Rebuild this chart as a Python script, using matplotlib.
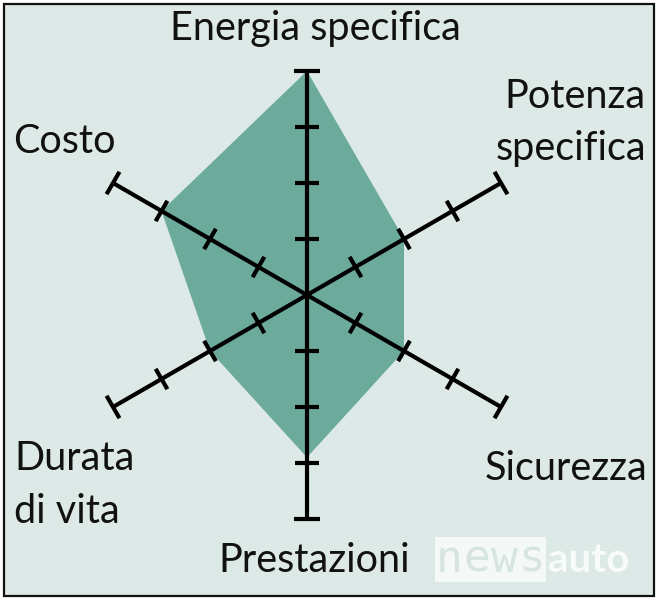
import numpy as np
import matplotlib
matplotlib.use("Agg")
import matplotlib.pyplot as plt
from matplotlib.patches import Rectangle, Polygon

# ---- data ----
categories = ["Energia specifica", "Potenza specifica", "Sicurezza",
              "Prestazioni", "Durata di vita", "Costo"]
values = [4, 2, 2, 2.9, 2, 3]
angles_deg = [90, 30, -30, -90, -150, 150]
max_value = 4
tick_values = [1, 2, 3]

# ---- figure ----
W, H = 659, 600
dpi = 100
fig = plt.figure(figsize=(W / dpi, H / dpi), dpi=dpi)
fig.patch.set_facecolor("white")
ax = fig.add_axes([0, 0, 1, 1])
ax.set_axis_off()

cx, cy, unit = 307, 295, 56.0
ax.set_xlim(-cx / unit, (W - cx) / unit)
ax.set_ylim(-(H - cy) / unit, cy / unit)
ax.set_aspect("auto")

def px(x, y):
    return ((x - cx) / unit, (cy - y) / unit)

bg = "#dce9e6"
fill_c = "#6cab9c"
# background panel + frame
x0, y0 = px(4, 596)
x1, y1 = px(654, 4)
ax.add_patch(Rectangle((x0, y0), x1 - x0, y1 - y0, facecolor=bg,
                       edgecolor="#111111", linewidth=1.6, zorder=0))

ang = np.radians(angles_deg)
pts = np.column_stack([np.array(values) * np.cos(ang), np.array(values) * np.sin(ang)])
ax.add_patch(Polygon(pts, closed=True, facecolor=fill_c, edgecolor="none", zorder=1))

lw = 3.0
half_tick = 0.21
for a in ang:
    ux, uy = np.cos(a), np.sin(a)
    nx, ny = -uy, ux
    ax.plot([0, max_value * ux], [0, max_value * uy], color="black", lw=lw,
            solid_capstyle="butt", zorder=3)
    for t in tick_values + [max_value]:
        h = half_tick if t != max_value else half_tick * 1.1
        ax.plot([t * ux - h * nx, t * ux + h * nx], [t * uy - h * ny, t * uy + h * ny],
                color="black", lw=lw, solid_capstyle="butt", zorder=3)

fam = ["Lato", "DejaVu Sans"]
fs = 28.5
tc = "#111111"
def label(text, x, y, ha, va="baseline"):
    ax.text(*px(x, y), text, ha=ha, va=va, fontsize=fs, family=fam, color=tc,
            zorder=4)

label("Energia specifica", 315, 40, "center")
label("Potenza", 646, 108, "right")
label("specifica", 646, 160, "right")
label("Sicurezza", 647, 480, "right")
label("Prestazioni", 314, 572, "center")
label("Durata", 14, 470, "left")
label("di vita", 14, 523, "left")
label("Costo", 13, 153, "left")

# watermark
for i, ch in enumerate("news"):
    ax.text(*px(436 + i * 27.5, 572), ch, ha="left", va="baseline", fontsize=32,
            family=["DejaVu Sans Mono"], color="#d6e5e1",
            bbox=dict(boxstyle="square,pad=0.02", facecolor="#f4f9f8", edgecolor="none"),
            zorder=2)
ax.text(*px(548, 572), "auto", ha="left", va="baseline", fontsize=29,
        family=fam, weight="bold", color="#f7fbfa", zorder=2)

fig.savefig("out.png", dpi=dpi, facecolor="white")
